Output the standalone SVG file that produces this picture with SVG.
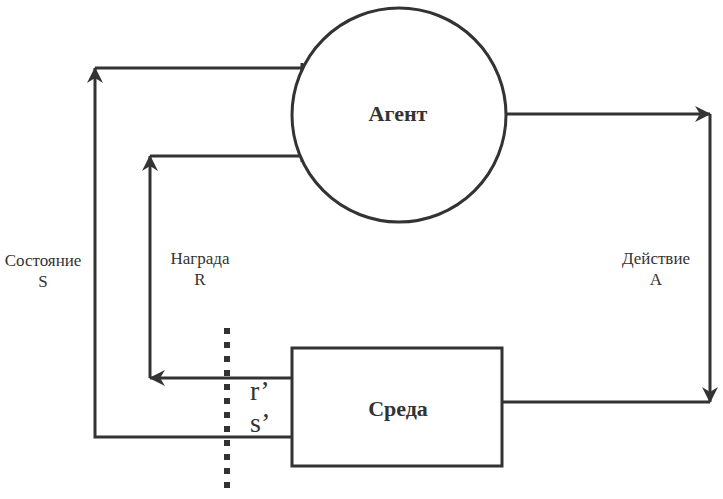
<svg xmlns="http://www.w3.org/2000/svg" width="723" height="499" viewBox="0 0 723 499">
<style>
.ln{fill:none;stroke:#333;stroke-width:3}
.nd{fill:#fff;stroke:#333;stroke-width:3}
text{font-family:'Liberation Serif','DejaVu Serif',serif;fill:#333;text-anchor:middle}
.lbl{font-size:17px}
.b{font-size:22px;font-weight:bold}
.p{font-size:28px;text-anchor:start}
</style>
<defs>
<marker id="ah" viewBox="0 0 16 16" refX="15" refY="8" markerWidth="16" markerHeight="16" markerUnits="userSpaceOnUse" orient="auto">
<path d="M0,0 L16,8 L0,16 L5,8 Z" fill="#333"/>
</marker>
</defs>
<rect width="723" height="499" fill="#fff"/>
<g id="connectors">
<path class="ln" d="M292,437 H95 V68" marker-end="url(#ah)"/>
<path class="ln" d="M95,68 H302"/>
<path class="ln" d="M150,378 V156" marker-end="url(#ah)"/>
<path class="ln" d="M150,156 H302"/>
<path class="ln" d="M292,378 H150" marker-end="url(#ah)"/>
<path class="ln" d="M505,114 H710" marker-end="url(#ah)"/>
<path class="ln" d="M710,114 V402" marker-end="url(#ah)"/>
<path class="ln" d="M710,402 H502"/>
<path class="ln" d="M302,63 V74 M302,151 V162"/>
<path d="M227,328 V490" fill="none" stroke="#333" stroke-width="6" stroke-dasharray="6 8"/>
</g>
<g id="agent">
<circle class="nd" cx="399" cy="115" r="107"/>
<text class="b" x="398" y="121">Агент</text>
</g>
<g id="env">
<rect class="nd" x="292" y="348" width="210" height="118"/>
<text class="b" x="398" y="416">Среда</text>
</g>
<g id="labels">
<text class="lbl" x="43" y="266">Состояние</text>
<text class="lbl" x="43" y="287">S</text>
<text class="lbl" x="200" y="264">Награда</text>
<text class="lbl" x="200" y="285">R</text>
<text class="lbl" x="656" y="264">Действие</text>
<text class="lbl" x="656" y="285">A</text>
<text class="p" x="250" y="400">r’</text>
<text class="p" x="250" y="432">s’</text>
</g>
</svg>
